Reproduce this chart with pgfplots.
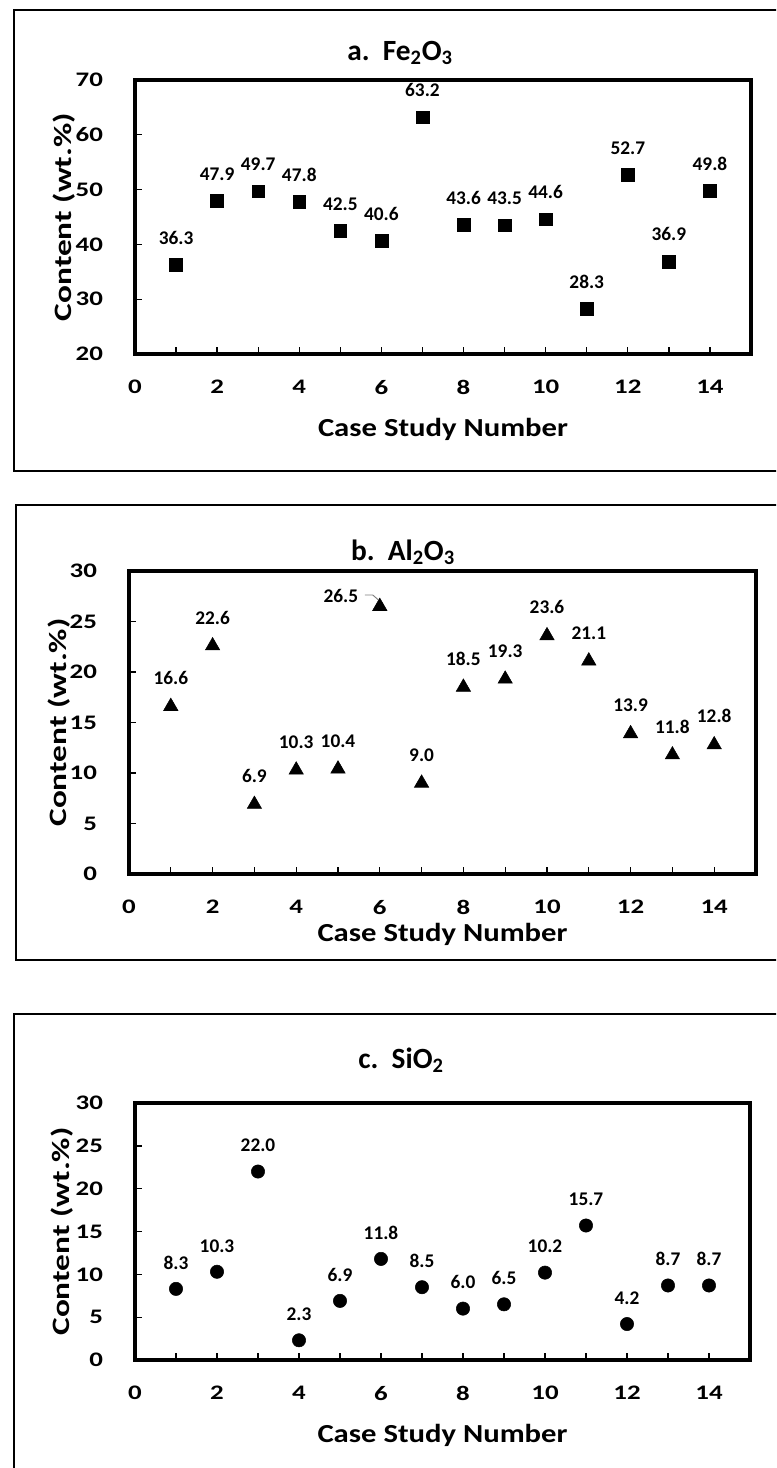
\documentclass[border=0pt]{standalone}
\usepackage{fontspec}
\setmainfont{Carlito}
\usepackage{pgfplots}
\pgfplotsset{compat=1.18}
\pgfplotsset{
 panel/.style={
  scale only axis, anchor=north west,
  xmin=0,xmax=15,
  xtick={0,...,14}, xticklabels={0,,2,,4,,6,,8,,10,,12,,14},
  xtick pos=bottom, ytick pos=left, tick align=inside,
  major tick length=5pt,
  axis line style={line width=2.4pt},
  tick style={line width=1pt, black},
  /pgf/number format/assume math mode=true,
  ticklabel style={font=\fontsize{15.5}{15.5}\selectfont\bfseries, xscale=1.3},
  xticklabel style={yshift=-16pt},
  yticklabel style={xshift=-15pt},
  xlabel style={font=\fontsize{19.5}{19.5}\selectfont\bfseries, xscale=1.18},
  ylabel style={font=\fontsize{25}{25}\selectfont\bfseries, yscale=0.75},
  xlabel={Case Study Number}, ylabel={Content (wt.\%)},
  point meta=explicit symbolic,
  nodes near coords style={font=\fontsize{14.5}{14.5}\selectfont\bfseries, anchor=south, inner sep=0pt, black},
 }
}
\begin{document}
\begin{tikzpicture}
\clip (0,0) rectangle (582pt,-1101pt);
\draw[line width=1.5pt] (10.5pt,-7.5pt) rectangle (600pt,-353.25pt);
\draw[line width=1.5pt] (12pt,-378.75pt) rectangle (600pt,-720pt);
\draw[line width=1.5pt] (10.5pt,-760.5pt) rectangle (600pt,-1125pt);
% panel a
\begin{axis}[panel, at={(101.25pt,-60pt)}, width=462pt, height=205.5pt,
  ymin=20, ymax=70, ytick={20,30,...,70},
  xlabel style={at={(axis description cs:0.5,-0.277)},anchor=center},
  ylabel style={at={(axis description cs:-0.115,0.5)},anchor=center},
  nodes near coords, nodes near coords style={yshift=15pt}]
\addplot[only marks, mark=square*, mark size=4.8pt, black] coordinates {
(1,36.3)[36.3] (2,47.9)[47.9] (3,49.7)[49.7] (4,47.8)[47.8] (5,42.5)[42.5]
(6,40.6)[40.6] (7,63.2)[63.2] (8,43.6)[43.6] (9,43.5)[43.5] (10,44.6)[44.6]
(11,28.3)[28.3] (12,52.7)[52.7] (13,36.9)[36.9] (14,49.8)[49.8]};
\end{axis}
% panel b
\begin{axis}[panel, at={(96.75pt,-428.25pt)}, width=470.25pt, height=227.25pt,
  ymin=0, ymax=30, ytick={0,5,...,30},
  xlabel style={at={(axis description cs:0.5,-0.201)},anchor=center},
  ylabel style={at={(axis description cs:-0.112,0.5)},anchor=center},
  nodes near coords style={yshift=16pt}]
\addplot[only marks, mark=triangle*, mark size=6.2pt, black, nodes near coords] coordinates {
(1,16.6)[16.6] (2,22.6)[22.6] (3,6.9)[6.9] (4,10.3)[10.3] (5,10.4)[10.4]
(7,9.0)[9.0] (8,18.5)[18.5] (9,19.3)[19.3] (10,23.6)[23.6]
(11,21.1)[21.1] (12,13.9)[13.9] (13,11.8)[11.8] (14,12.8)[12.8]};
\addplot[only marks, mark=triangle*, mark size=6.2pt, black] coordinates {(6,26.5)};
\node[anchor=east, inner sep=0pt, font=\fontsize{14.5}{14.5}\selectfont\bfseries, xshift=-16pt, yshift=7.5pt] at (axis cs:6,26.5) {26.5};
\draw[gray, line width=0.7pt] (axis cs:6,26.5) ++(-11.25pt,8.5pt) -- ++(6pt,0pt) -- ++(4pt,-3.5pt);
\end{axis}
% panel c
\begin{axis}[panel, at={(101.25pt,-827.25pt)}, width=461.25pt, height=192.75pt,
  ymin=0, ymax=30, ytick={0,5,...,30},
  xlabel style={at={(axis description cs:0.5,-0.292)},anchor=center},
  ylabel style={at={(axis description cs:-0.119,0.5)},anchor=center},
  nodes near coords, nodes near coords style={yshift=14.5pt}]
\addplot[only marks, mark=*, mark size=5pt, black] coordinates {
(1,8.3)[8.3] (2,10.3)[10.3] (3,22.0)[22.0] (4,2.3)[2.3] (5,6.9)[6.9]
(6,11.8)[11.8] (7,8.5)[8.5] (8,6.0)[6.0] (9,6.5)[6.5] (10,10.2)[10.2]
(11,15.7)[15.7] (12,4.2)[4.2] (13,8.7)[8.7] (14,8.7)[8.7]};
\end{axis}
\node[font=\fontsize{22}{22}\selectfont\bfseries] at (300pt,-39.75pt) {a.\ \ Fe\textsubscript{2}O\textsubscript{3}};
\node[font=\fontsize{22}{22}\selectfont\bfseries] at (302.25pt,-414pt) {b.\ \ Al\textsubscript{2}O\textsubscript{3}};
\node[font=\fontsize{22}{22}\selectfont\bfseries] at (300.75pt,-795pt) {c.\ \ SiO\textsubscript{2}};
\end{tikzpicture}
\end{document}
